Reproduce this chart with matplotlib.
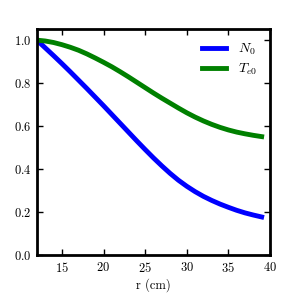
import matplotlib
matplotlib.use("Agg")
import matplotlib.pyplot as plt

FONTSIZE = 9

# radius (cm) and normalized profiles
r = [12, 13, 14, 15, 16, 17, 18, 19, 20, 21, 22, 23, 24, 25,
     26, 27, 28, 29, 30, 31, 32, 33, 34, 35, 36, 37, 38, 39]
n0 = [1.000, 0.964, 0.928, 0.891, 0.853, 0.814, 0.775, 0.735, 0.695, 0.654,
      0.613, 0.572, 0.531, 0.491, 0.452, 0.415, 0.380, 0.348, 0.320, 0.295,
      0.273, 0.254, 0.237, 0.222, 0.208, 0.196, 0.186, 0.177]
te0 = [1.000, 0.996, 0.989, 0.979, 0.967, 0.953, 0.936, 0.917, 0.897, 0.876,
       0.853, 0.829, 0.804, 0.779, 0.754, 0.730, 0.707, 0.684, 0.662, 0.642,
       0.624, 0.608, 0.594, 0.582, 0.572, 0.564, 0.557, 0.551]

xticks = [15, 20, 25, 30, 35, 40]
yticks = [0.0, 0.2, 0.4, 0.6, 0.8, 1.0]

plt.rcParams["font.family"] = ["cmr10", "DejaVu Serif"]
plt.rcParams["mathtext.fontset"] = "cm"
plt.rcParams["axes.formatter.use_mathtext"] = True

fig = plt.figure(figsize=(3, 3), dpi=100)
ax = fig.add_axes([0.123, 0.15, 0.777, 0.752])

ax.plot(r, n0, color="#0000ff", lw=3.5, label=r"$N_0$")
ax.plot(r, te0, color="#008000", lw=3.5, label=r"$T_{e0}$")

ax.set_xlim(12, 40)
ax.set_ylim(0, 1.05)
ax.set_xticks(xticks)
ax.set_yticks(yticks)
ax.tick_params(direction="in", length=4, width=1, top=True, right=True,
               labelsize=FONTSIZE, pad=4)
for s in ax.spines.values():
    s.set_linewidth(2)
ax.set_xlabel("r (cm)", fontsize=FONTSIZE, labelpad=3)

ax.legend(loc="upper right", frameon=False, fontsize=10, handlelength=1.75,
          handletextpad=0.9, borderaxespad=0.5, labelspacing=0.35)

fig.savefig("out.png", dpi=100)
